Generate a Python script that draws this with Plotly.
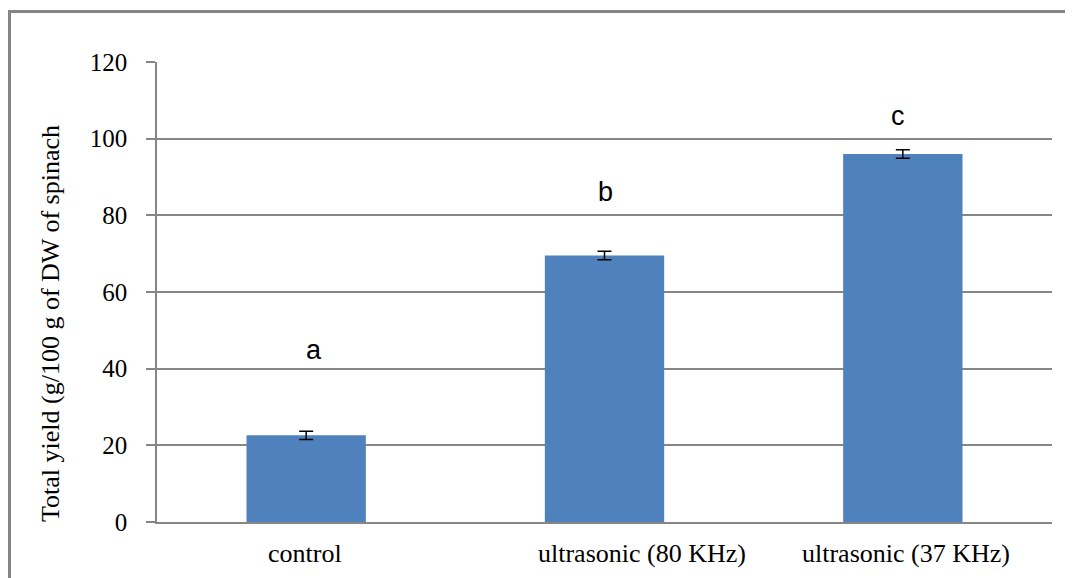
import plotly.graph_objects as go

categories = ["control", "ultrasonic (80 KHz)", "ultrasonic (37 KHz)"]
values = [22.6, 69.5, 96.0]
errors = [1.05, 1.1, 1.1]
letters = ["a", "b", "c"]
letter_y = [45, 86, 106]
y_ticks = [0, 20, 40, 60, 80, 100, 120]

# horizontal nudges of texts as placed in the original picture (pixels)
letter_shift = [8, 1, -5]
label_shift = [-1, 37, 3]

OFF = 8  # page body margin
W, H = 1065, 570
L, R, T, B = 149, 21, 54, 56
pw, ph = W - L - R, H - T - B

def px_x(p):
    return (p - OFF - L) / pw

def px_y(p):
    return (H - B - (p - OFF)) / ph

fig = go.Figure()
fig.add_trace(go.Bar(
    x=categories, y=values, width=0.4,
    marker=dict(color="#4F81BD", line=dict(width=0)),
    error_y=dict(type="data", array=errors, visible=True, color="black",
                 thickness=1.5, width=7),
    showlegend=False,
))

for c, t, yy, s in zip(categories, letters, letter_y, letter_shift):
    fig.add_annotation(x=c, y=yy, text=t, showarrow=False, xref="x", yref="y",
                       xshift=s,
                       font=dict(family="Liberation Sans", size=27, color="black"),
                       yanchor="middle")

for c, s in zip(categories, label_shift):
    fig.add_annotation(x=c, y=px_y(553), text=c, showarrow=False, xref="x", yref="paper",
                       xshift=s, yanchor="middle",
                       font=dict(family="Liberation Serif", size=26, color="black"))

fig.add_annotation(
    x=px_x(50), y=px_y(324), xref="paper", yref="paper",
    text="Total yield (g/100 g of DW of spinach", textangle=-90, showarrow=False,
    font=dict(family="Liberation Serif", size=26, color="black"),
    xanchor="center", yanchor="middle",
)

fig.add_shape(type="rect", xref="paper", yref="paper",
              x0=px_x(9.5), x1=px_x(1100), y0=px_y(620), y1=px_y(11.5),
              line=dict(color="#868686", width=3), fillcolor="rgba(0,0,0,0)",
              layer="below")

gray = "#868686"
fig.update_layout(
    width=W, height=H,
    margin=dict(l=L, r=R, t=T, b=B),
    paper_bgcolor="white", plot_bgcolor="white",
    bargap=0.6,
    xaxis=dict(
        showline=True, linecolor=gray, linewidth=1.5,
        showgrid=False, ticks="", zeroline=False,
        showticklabels=False,
    ),
    yaxis=dict(
        range=[0, 120], tickvals=y_ticks,
        showline=True, linecolor=gray, linewidth=1.5,
        showgrid=True, gridcolor=gray, gridwidth=1.5,
        ticks="outside", ticklen=9, tickcolor=gray, tickwidth=1.5,
        zeroline=False,
        tickfont=dict(family="Liberation Serif", size=25, color="black"),
        ticklabelstandoff=14,
    ),
)

fig.write_html("out.html")
